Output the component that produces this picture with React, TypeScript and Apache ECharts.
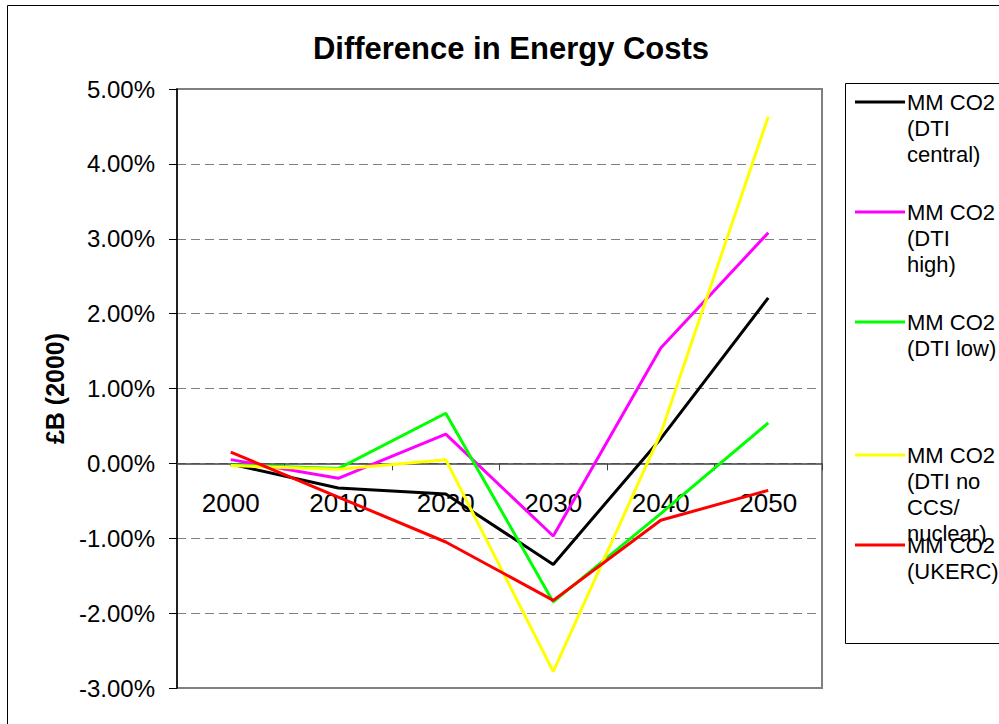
import React, { useEffect, useRef } from 'react';
import * as echarts from 'echarts';

const years = ['2000', '2010', '2020', '2030', '2040', '2050'];
const seriesNames = [
  'MM CO2 (DTI central)',
  'MM CO2 (DTI high)',
  'MM CO2 (DTI low)',
  'MM CO2 (DTI no CCS/ nuclear)',
  'MM CO2 (UKERC)',
];
const legendLabels = [
  'MM CO2\n(DTI\ncentral)',
  'MM CO2\n(DTI\nhigh)',
  'MM CO2\n(DTI low)',
  'MM CO2\n(DTI no\nCCS/\nnuclear)',
  'MM CO2\n(UKERC)',
];
const seriesColors = ['#000000', '#FF00FF', '#00FF00', '#FFFF00', '#FF0000'];

const dtiCentral = [-0.01, -0.33, -0.41, -1.35, 0.33, 2.21];
const dtiHigh = [0.05, -0.2, 0.39, -0.97, 1.54, 3.08];
const dtiLow = [-0.02, -0.07, 0.67, -1.85, -0.67, 0.54];
const dtiNoCcs = [-0.03, -0.08, 0.05, -2.78, 0.4, 4.63];
const ukerc = [0.15, -0.45, -1.05, -1.83, -0.76, -0.36];
const seriesValues = [dtiCentral, dtiHigh, dtiLow, dtiNoCcs, ukerc];

const yMin = -3;
const yMax = 5;
const yInterval = 1;

const chartTitle = 'Difference in Energy Costs';
const yAxisName = '£B (2000)';

const FONT = '"Liberation Sans", Arial, Helvetica, sans-serif';

const GRID_TOP = 89;
const GRID_HEIGHT = 599;

export default function App() {
  const ref = useRef<HTMLDivElement>(null);

  useEffect(() => {
    if (!ref.current) return;
    const chart = echarts.init(ref.current, undefined, { renderer: 'svg' });

    // distance from grid bottom to the zero line, so the category axis sits on 0
    const zeroOffset = -(GRID_HEIGHT * (0 - yMin)) / (yMax - yMin);

    const legendY = [102, 212, 322, 455, 545];
    const legendLineHeight = 26;
    const legendGraphics: any[] = [];
    legendLabels.forEach((label, i) => {
      legendGraphics.push({
        type: 'line',
        shape: { x1: 855, y1: legendY[i], x2: 905, y2: legendY[i] },
        style: { stroke: seriesColors[i], lineWidth: 3 },
        z: 10,
      });
      legendGraphics.push({
        type: 'text',
        x: 907,
        y: legendY[i] - legendLineHeight / 2,
        style: {
          text: label,
          fontSize: 22,
          fontFamily: FONT,
          fill: '#000',
          lineHeight: legendLineHeight,
          align: 'left',
          verticalAlign: 'top',
        },
        z: 10,
      });
    });

    chart.setOption({
      animation: false,
      backgroundColor: '#ffffff',
      textStyle: { fontFamily: FONT },
      title: {
        text: chartTitle,
        left: 506,
        top: 28,
        textAlign: 'center',
        textStyle: { fontSize: 31, fontWeight: 'bold', color: '#000', fontFamily: FONT },
      },
      graphic: [
        {
          type: 'rect',
          shape: { x: 7.5, y: 5.5, width: 1200, height: 1000 },
          style: { fill: 'none', stroke: '#000', lineWidth: 1 },
          z: -10,
        },
        {
          type: 'rect',
          shape: { x: 845.5, y: 83.5, width: 300, height: 560 },
          style: { fill: '#fff', stroke: '#000', lineWidth: 1 },
          z: 5,
        },
        ...legendGraphics,
      ],
      grid: {
        left: 177,
        top: GRID_TOP,
        width: 645,
        height: GRID_HEIGHT,
        show: true,
        borderColor: '#808080',
        borderWidth: 2,
        backgroundColor: 'transparent',
      },
      xAxis: {
        type: 'category',
        data: years,
        boundaryGap: true,
        offset: zeroOffset,
        axisLine: { onZero: false, lineStyle: { color: '#404040', width: 1.5 } },
        axisTick: { show: true, length: 7, lineStyle: { color: '#404040' } },
        axisLabel: { fontSize: 26, color: '#000', margin: 27, interval: 0, fontFamily: FONT },
        splitLine: { show: false },
      },
      yAxis: {
        type: 'value',
        min: yMin,
        max: yMax,
        interval: yInterval,
        name: yAxisName,
        nameLocation: 'middle',
        nameRotate: 90,
        nameGap: 110,
        nameTextStyle: { fontSize: 25, fontWeight: 'bold', color: '#000', fontFamily: FONT },
        axisLine: { show: true, lineStyle: { color: '#000', width: 1.5 } },
        axisTick: { show: true, length: 8, lineStyle: { color: '#000' } },
        axisLabel: {
          fontSize: 24,
          color: '#000',
          margin: 22,
          fontFamily: FONT,
          formatter: (v: number) => v.toFixed(2) + '%',
        },
        splitLine: { show: true, lineStyle: { color: '#808080', type: [9, 5], width: 1 } },
      },
      series: seriesNames.map((name, i) => ({
        name,
        type: 'line',
        data: seriesValues[i],
        symbol: 'none',
        lineStyle: { color: seriesColors[i], width: 3 },
        itemStyle: { color: seriesColors[i] },
      })),
    });

    return () => chart.dispose();
  }, []);

  return (
    <div
      ref={ref}
      style={{ position: 'fixed', left: 0, top: 0, width: 999, height: 724, background: '#fff' }}
    />
  );
}
